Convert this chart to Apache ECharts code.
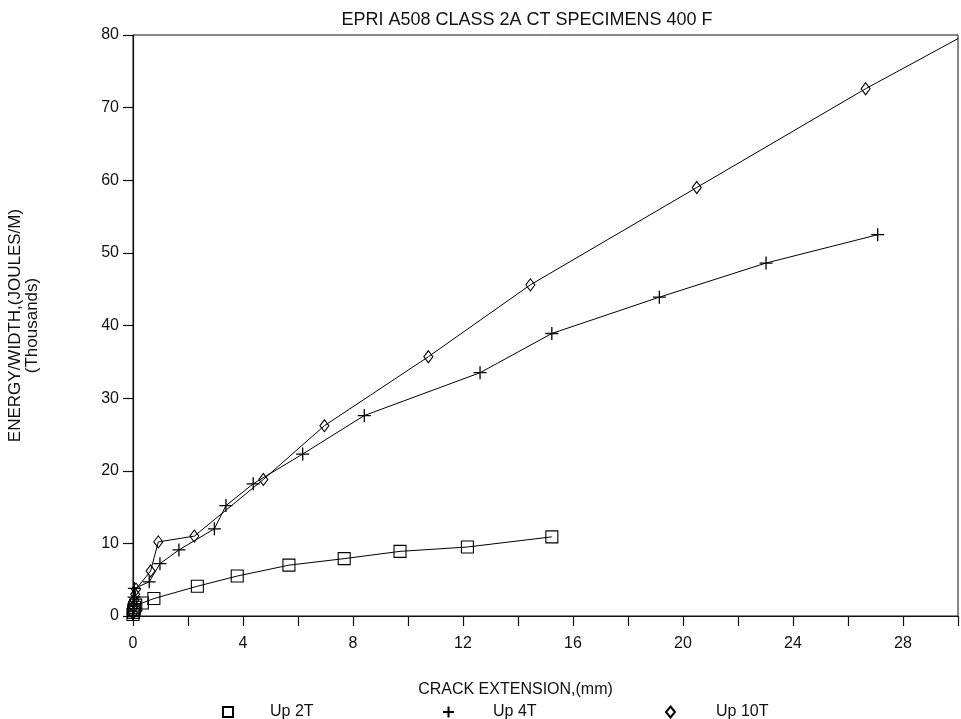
<!DOCTYPE html>
<html>
<head>
<meta charset="utf-8">
<script src="https://cdn.jsdelivr.net/npm/echarts@6/dist/echarts.min.js"></script>
<style>html,body{margin:0;padding:0;background:#fff;}#c{width:961px;height:719px;}</style>
</head>
<body>
<div id="c"></div>
<script>
var titleText = 'EPRI A508 CLASS 2A CT SPECIMENS 400 F';
var xAxisTitle = 'CRACK EXTENSION,(mm)';
var yAxisTitle = 'ENERGY/WIDTH,(JOULES/M)\n(Thousands)';
var seriesNames = ['Up 2T', 'Up 4T', 'Up 10T'];

// Up 2T : [crack extension mm, energy/width thousands J/m]
var up2T = [[0,0.2],[0.02,0.5],[0.04,0.9],[0.06,1.2],[0.1,1.5],[0.34,1.8],[0.76,2.4],[2.34,4.1],[3.79,5.5],[5.67,7.0],[7.68,7.9],[9.71,8.9],[12.16,9.5],[15.23,10.9]];
// Up 4T
var up4T = [[0,0.3],[0.02,1.5],[0.04,2.6],[0.05,3.8],[0.59,4.7],[0.98,7.2],[1.67,9.1],[2.96,12.0],[3.38,15.2],[4.37,18.2],[6.17,22.3],[8.41,27.6],[12.62,33.5],[15.23,38.9],[19.14,43.9],[23.02,48.6],[27.08,52.5]];
// Up 10T (last point continues the line to the plot corner)
var up10T = [[0,0.4],[0.02,1.2],[0.05,2.2],[0.08,3.0],[0.11,3.7],[0.64,6.2],[0.92,10.2],[2.23,11.0],[4.74,18.8],[6.96,26.2],[10.74,35.7],[14.45,45.6],[20.5,59.0],[26.64,72.6]];
var up10TEnd = [30, 79.5];

var xMin = 0, xMax = 30, xStep = 2, xLabelEvery = 4;
var yMin = 0, yMax = 80, yStep = 10;

var FONT = "'Liberation Sans', Arial, sans-serif";
var plusPath = 'path://M5,0L5,10M0,5L10,5';

var chart = echarts.init(document.getElementById('c'));

var symStyle = {color: 'rgba(0,0,0,0)', borderColor: '#000', borderWidth: 1.1};
var lineStyle = {color: '#000', width: 1};

var d10 = up10T.map(function (p) { return p; });
d10.push({value: up10TEnd, symbol: 'none'});

chart.setOption({
  animation: false,
  backgroundColor: '#fff',
  title: {
    text: titleText, left: 522, top: 6, textAlign: 'center',
    textStyle: {fontFamily: FONT, fontSize: 18, fontWeight: 'normal', color: '#111'}
  },
  grid: {left: 133, top: 35, right: 3, bottom: 103, containLabel: false, outerBoundsMode: 'none',
         show: true, borderColor: '#111', borderWidth: 1, backgroundColor: 'transparent'},
  xAxis: {
    type: 'value', min: xMin, max: xMax, interval: xStep,
    axisLine: {show: true, onZero: false, lineStyle: {color: '#111', width: 1.2}},
    axisTick: {show: true, length: 10, lineStyle: {color: '#111', width: 1.2}},
    splitLine: {show: false},
    axisLabel: {
      margin: 20, color: '#111', fontFamily: FONT, fontSize: 16,
      formatter: function (v) { return (v % xLabelEvery === 0 && v < xMax) ? String(v) : ''; }
    },
    name: xAxisTitle, nameLocation: 'middle', nameGap: 66,
    nameTextStyle: {fontFamily: FONT, fontSize: 16, color: '#111', padding: [0, 60, 0, 0]}
  },
  yAxis: {
    type: 'value', min: yMin, max: yMax, interval: yStep,
    axisLine: {show: true, lineStyle: {color: '#111', width: 1.2}},
    axisTick: {show: true, length: 10, lineStyle: {color: '#111', width: 1.2}},
    splitLine: {show: false},
    axisLabel: {margin: 14, color: '#111', fontFamily: FONT, fontSize: 16},
    name: yAxisTitle, nameLocation: 'middle', nameRotate: 90, nameGap: 92,
    nameTextStyle: {fontFamily: FONT, fontSize: 17, color: '#111', lineHeight: 17}
  },
  legend: [
    {data: [{name: seriesNames[0], icon: 'rect'}], left: 217, top: 699, itemWidth: 10, itemHeight: 10,
     textStyle: {fontFamily: FONT, fontSize: 16, color: '#111', padding: [0, 0, 0, 32]}},
    {data: [{name: seriesNames[1], icon: plusPath}], left: 437, top: 699, itemWidth: 11, itemHeight: 11,
     textStyle: {fontFamily: FONT, fontSize: 16, color: '#111', padding: [0, 0, 0, 34]}},
    {data: [{name: seriesNames[2], icon: 'diamond'}], left: 660, top: 699, itemWidth: 9, itemHeight: 11,
     textStyle: {fontFamily: FONT, fontSize: 16, color: '#111', padding: [0, 0, 0, 36]}}
  ],
  series: [
    {name: seriesNames[0], type: 'line', data: up2T, symbol: 'rect', symbolSize: 12,
     itemStyle: symStyle, lineStyle: lineStyle, z: 3},
    {name: seriesNames[1], type: 'line', data: up4T, symbol: plusPath, symbolSize: 13,
     itemStyle: {color: 'rgba(0,0,0,0)', borderColor: '#000', borderWidth: 1.3}, lineStyle: lineStyle, z: 3},
    {name: seriesNames[2], type: 'line', data: d10, symbol: 'diamond', symbolSize: [9, 12],
     itemStyle: symStyle, lineStyle: lineStyle, z: 3, clip: true}
  ]
});
</script>
</body>
</html>
